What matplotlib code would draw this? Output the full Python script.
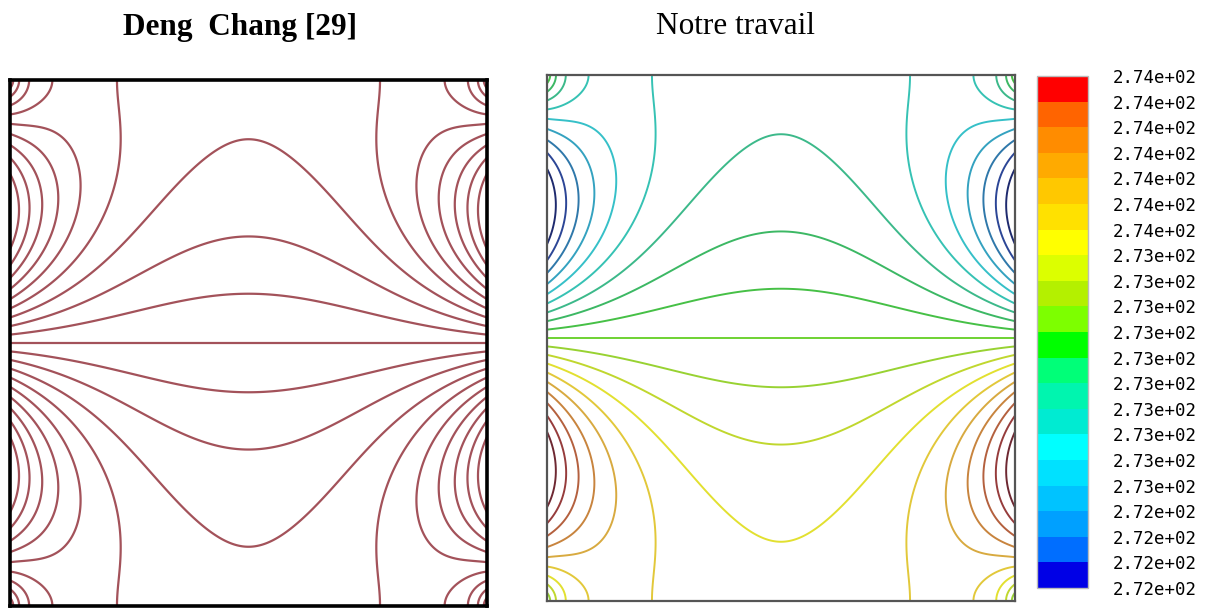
import numpy as np
import matplotlib
matplotlib.use("Agg")
import matplotlib.pyplot as plt
from matplotlib.colors import ListedColormap, BoundaryNorm
from matplotlib.cm import ScalarMappable

# Cavity: both side walls carry T = T_ref + A*sin(2*pi*y/H),
# top and bottom walls are adiabatic; steady conduction field.
T_ref = 273.15          # K
wall_amplitude = 1.0    # K
cavity_width = 1.03
cavity_height = 1.0

# Isotherm / colour-band levels (K)
levels = [272.15, 272.25, 272.35, 272.45, 272.55, 272.65, 272.75,
          272.85, 272.95, 273.05, 273.15, 273.25, 273.35, 273.45,
          273.55, 273.65, 273.75, 273.85, 273.95, 274.05, 274.15]

# Colour bands of the legend, bottom to top
band_colors = ["#0000e6", "#006eff", "#00a0ff", "#00c3ff", "#00e1ff",
               "#00ffff", "#00ebd2", "#00f5af", "#00ff78", "#00ff00",
               "#7dff00", "#b4f000", "#dcff00", "#ffff00", "#ffe100",
               "#ffc800", "#ffaa00", "#ff8c00", "#ff6400", "#ff0000"]

# Isotherm colours, one per level
line_colors = ["#1e2060", "#1e2a6e", "#2c4696", "#2f78aa", "#34a2c0",
               "#36c0c8", "#36c2b4", "#3cb98a", "#3cb864", "#46c046",
               "#6ed232", "#98d232", "#c0d72e", "#e2e030", "#e2c83a",
               "#d8aa40", "#c8843e", "#b4603e", "#963c3c", "#6e2832",
               "#5a1e28"]

deng_color = "#a3525a"


def cavity_temperature(nx=600, ny=600, n_terms=401):
    x = np.linspace(0.0, cavity_width, nx)
    y = np.linspace(0.0, cavity_height, ny)
    X, Y = np.meshgrid(x, y)
    xi = np.abs(X - cavity_width / 2) / cavity_height
    half = cavity_width / (2 * cavity_height)
    theta = np.zeros_like(X)
    for n in range(1, n_terms + 1, 2):
        a_n = 8.0 / (np.pi * (4.0 - n * n))
        k = n * np.pi
        ratio = (np.exp(k * (xi - half)) + np.exp(-k * (xi + half))) / (1.0 + np.exp(-2 * k * half))
        theta += a_n * np.cos(k * Y / cavity_height) * ratio
    return X, Y, T_ref + wall_amplitude * theta


X, Y, T = cavity_temperature()
inner_levels = levels[1:-1]

fig = plt.figure(figsize=(12.12, 6.08), dpi=100)
W, H = 1212.0, 608.0


def px_axes(x0, y0, x1, y1):
    return fig.add_axes([x0 / W, 1 - y1 / H, (x1 - x0) / W, (y1 - y0) / H])


# Left: reference isotherms
ax1 = px_axes(10, 80, 487, 606)
ax1.contour(X, Y, T, levels=inner_levels, colors=deng_color, linewidths=1.6)
ax1.set_xlim(0, cavity_width)
ax1.set_ylim(0, cavity_height)
ax1.set_xticks([])
ax1.set_yticks([])
for s in ax1.spines.values():
    s.set_color("black")
    s.set_linewidth(2.6)

# Right: present isotherms coloured by temperature
ax2 = px_axes(547, 75, 1015, 601)
ax2.contour(X, Y, T, levels=inner_levels, colors=line_colors[1:-1], linewidths=1.4)
ax2.set_xlim(0, cavity_width)
ax2.set_ylim(0, cavity_height)
ax2.set_xticks([])
ax2.set_yticks([])
for s in ax2.spines.values():
    s.set_color("#555555")
    s.set_linewidth(1.6)

# Colour legend
cax = px_axes(1037, 76, 1088, 588)
cmap = ListedColormap(band_colors)
norm = BoundaryNorm(levels, cmap.N)
cb = fig.colorbar(ScalarMappable(norm=norm, cmap=cmap), cax=cax, ticks=levels)
cb.ax.set_yticklabels(["%.2e" % v for v in levels],
                      fontfamily="DejaVu Sans Mono", fontsize=12.5)
cb.ax.tick_params(length=0, pad=18)
cb.outline.set_edgecolor("#bbbbbb")
cb.outline.set_linewidth(1.0)

fig.text(240 / W, 1 - 27 / H, "Deng  Chang [29]", ha="center", va="center",
         fontfamily="Liberation Serif", fontweight="bold", fontsize=22.5)
fig.text(736 / W, 1 - 27 / H, "Notre travail", ha="center", va="center",
         fontfamily="Liberation Serif", fontsize=22.5)

fig.savefig("out.png", dpi=100, facecolor="white")
